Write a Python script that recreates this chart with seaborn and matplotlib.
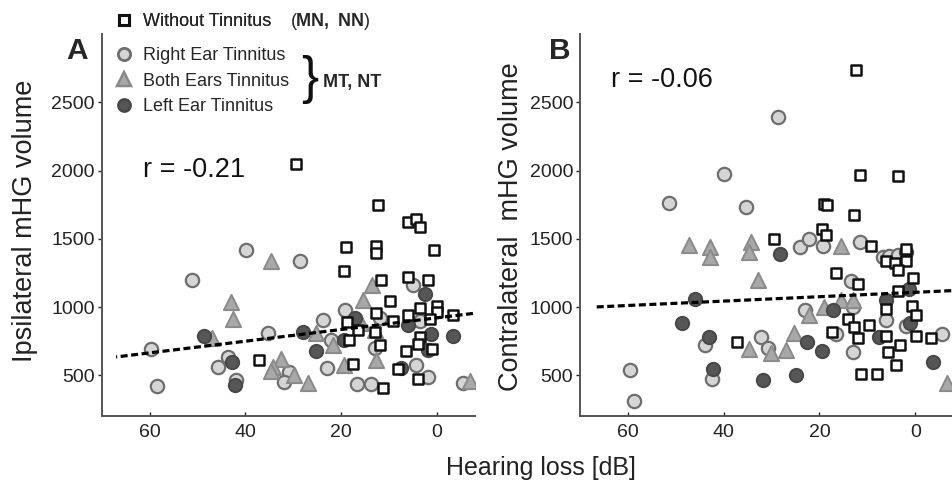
import numpy as np
import pandas as pd
import matplotlib
matplotlib.use('Agg')
import matplotlib.pyplot as plt
from matplotlib.lines import Line2D
import seaborn as sns

# data (hearing loss dB, mHG volume)

# panel A - ipsilateral
sq_a_x = [29.4, 12.3, 6.1, 4.3, 3.6, 19.1, 12.7, 12.7, 0.7, 19.5, 11.6, 6.1, 1.9, 9.8, 3.6, 0.1, 0.0, 12.7,
          6.1, 18.7, 9.2, 1.5, -3.3, 16.5, 13.0, 3.6, 18.3, 12.0, 6.4, 4.0, 1.0, 37.2, 17.6, 8.2, 4.0, 11.3]
sq_a_y = [2050, 1745, 1620, 1645, 1585, 1440, 1445, 1395, 1415, 1265, 1195, 1220, 1200, 1045, 990, 1005, 965, 955,
          940, 890, 900, 915, 940, 830, 815, 780, 760, 720, 680, 730, 690, 615, 585, 545, 475, 405]
rt_a_x = [39.9, 28.6, 51.2, 19.3, 23.7, 11.8, 5.0, 35.2, 59.6, 43.7, 45.8, 42.0, 58.5, 30.8, 31.9, 23.0,
          22.2, 13.0, 16.7, 13.7, 4.3, 1.9, 3.6, -5.4]
rt_a_y = [1420, 1335, 1195, 975, 905, 920, 1165, 810, 690, 635, 560, 465, 420, 525, 450, 555,
          755, 700, 435, 435, 575, 490, 900, 440]
bt_a_x = [34.6, 42.9, 42.5, 47.0, 13.6, 15.5, 25.2, 21.7, 13.0, 15.8, 12.7, 19.4, 32.5, 34.3, 34.6, 29.8, 27.0, -6.8]
bt_a_y = [1340, 1035, 915, 775, 1165, 1050, 810, 720, 830, 880, 610, 575, 620, 560, 530, 505, 445, 460]
lt_a_x = [48.7, 42.8, 42.2, 28.0, 25.2, 17.2, 19.4, 2.6, 6.1, 1.3, 1.9, -3.3, 7.5]
lt_a_y = [785, 600, 430, 815, 680, 920, 755, 1095, 865, 800, 685, 785, 555]

# panel B - contralateral
sq_b_x = [12.3, 11.6, 3.6, 19.1, 18.4, 12.7, 19.4, 29.5, 18.7, 9.2, 1.9, 6.1, 4.3, 1.9, 3.6, 16.5, 12.0, 0.5,
          3.6, 6.1, 0.6, -0.2, 14.1, 12.7, 9.7, 17.4, 12.0, 6.1, -0.1, -3.3, 3.1, 5.7, 4.0, 37.3, 11.3, 7.9]
sq_b_y = [2740, 1965, 1960, 1755, 1750, 1675, 1575, 1500, 1530, 1445, 1425, 1335, 1325, 1335, 1275, 1250, 1170, 1210,
          1115, 985, 1005, 945, 915, 855, 865, 820, 775, 785, 790, 775, 720, 670, 575, 745, 510, 510]
rt_b_x = [28.6, 40.0, 51.4, 35.3, 59.6, 58.8, 43.9, 42.4, 32.2, 30.8, 24.0, 22.1, 19.3, 11.6, 23.1,
          16.5, 13.4, 13.0, 13.0, 6.8, 5.4, 3.6, 6.2, 1.9, -5.6]
rt_b_y = [2390, 1975, 1760, 1735, 540, 315, 720, 475, 780, 700, 1440, 1500, 1445, 1475, 975,
          800, 1190, 1000, 670, 1365, 1375, 1380, 905, 860, 800]
bt_b_x = [47.2, 42.8, 42.8, 34.4, 34.8, 32.8, 15.5, 22.1, 19.0, 15.5, 13.0, 25.4, 34.8, 30.2, 27.0, -6.6]
bt_b_y = [1455, 1440, 1365, 1480, 1405, 1195, 1450, 940, 1000, 1055, 1055, 810, 695, 665, 685, 445]
lt_b_x = [45.9, 48.7, 43.0, 42.3, 28.2, 31.7, 25.0, 22.6, 19.5, 17.2, 6.1, 1.3, 2.0, 7.5, 1.2, -3.6]
lt_b_y = [1060, 880, 780, 545, 1390, 465, 500, 745, 675, 980, 1050, 1135, 1400, 780, 880, 595]

# regression lines (end points)
fit_x = [67, -7.5]
fit_a_y = [634, 953]
fit_b_y = [1000, 1120]

r_labels = ['r = -0.21', 'r = -0.06']
y_labels = ['Ipsilateral mHG volume', 'Contralateral  mHG volume']
panel_labels = ['A', 'B']
y_ticks = [500, 1000, 1500, 2000, 2500]
x_ticks = [60, 40, 20, 0]

sns.set_style('ticks')
plt.rcParams['font.family'] = ['Liberation Sans', 'DejaVu Sans']
plt.rcParams['mathtext.fontset'] = 'custom'
plt.rcParams['mathtext.rm'] = 'Liberation Sans'
plt.rcParams['mathtext.bf'] = 'Liberation Sans:bold'

# marker styles
sq_style = dict(marker='s', s=56, color='white', edgecolor='#111111', linewidth=1.8)
rt_style = dict(marker='o', s=92, color='#d5d5d5', edgecolor='#6e6e6e', linewidth=1.6)
bt_style = dict(marker='^', s=120, color='#a8a8a8', edgecolor='#8a8a8a', linewidth=1.4)
lt_style = dict(marker='o', s=92, color='#565656', edgecolor='#474747', linewidth=1.4)

fig = plt.figure(figsize=(9.52, 4.84), dpi=100)
ax_a = fig.add_axes([0.1068, 0.1415, 0.3925, 0.788])
ax_b = fig.add_axes([0.6092, 0.1415, 0.3925, 0.788])

panels = [
    (ax_a, (sq_a_x, sq_a_y), (rt_a_x, rt_a_y), (bt_a_x, bt_a_y), (lt_a_x, lt_a_y), fit_a_y),
    (ax_b, (sq_b_x, sq_b_y), (rt_b_x, rt_b_y), (bt_b_x, bt_b_y), (lt_b_x, lt_b_y), fit_b_y),
]

for i, (ax, sq, rt, bt, lt, fit_y) in enumerate(panels):
    sns.scatterplot(x=rt[0], y=rt[1], ax=ax, zorder=3, **rt_style)
    sns.scatterplot(x=bt[0], y=bt[1], ax=ax, zorder=3, **bt_style)
    sns.scatterplot(x=lt[0], y=lt[1], ax=ax, zorder=3, **lt_style)
    sns.scatterplot(x=sq[0], y=sq[1], ax=ax, zorder=4, **sq_style)
    sns.lineplot(x=fit_x, y=fit_y, ax=ax, color='black', linewidth=2.3,
                 linestyle=(0, (2.2, 1.1)), zorder=5)

    ax.set_xlim(70, -8)
    ax.set_ylim(205, 3000)
    ax.set_xticks(x_ticks)
    ax.set_yticks(y_ticks)
    ax.tick_params(axis='both', labelsize=14, colors='#222222', length=3, width=1)
    ax.tick_params(axis='x', direction='in', pad=6)
    ax.tick_params(axis='y', direction='out', pad=2)
    for side in ['top', 'right']:
        ax.spines[side].set_visible(False)
    for side in ['left', 'bottom']:
        ax.spines[side].set_color('#555555')
        ax.spines[side].set_linewidth(1.4)
    ax.set_ylabel(y_labels[i], fontsize=19.5, color='#222222', va='center')
    ax.set_xlabel('')

ax_a.yaxis.set_label_coords(-0.205, 0.51)
ax_b.yaxis.set_label_coords(-0.185, 0.495)

# r values
ax_a.text(0.11, 0.645, r_labels[0], transform=ax_a.transAxes, fontsize=19.5, va='center', color='#111111')
ax_b.text(0.084, 0.88, r_labels[1], transform=ax_b.transAxes, fontsize=19.5, va='center', color='#111111')

# panel letters
fig.text(77.5 / 952, 1 - 51 / 484, panel_labels[0], fontsize=21.5, fontweight='bold', ha='center', va='center')
fig.text(559.5 / 952, 1 - 51 / 484, panel_labels[1], fontsize=21.5, fontweight='bold', ha='center', va='center')

fig.text(541 / 952, 1 - 468 / 484, 'Hearing loss [dB]', fontsize=18, ha='center', va='center', color='#222222')

# legends
def handle(st):
    return Line2D([], [], marker=st['marker'], linestyle='none', markersize=np.sqrt(st['s']) * 0.92,
                  markerfacecolor=st['color'], markeredgecolor=st['edgecolor'],
                  markeredgewidth=st['linewidth'] + 0.4)

leg1 = fig.legend(handles=[handle(sq_style)], labels=['Without Tinnitus'], loc='upper left',
                  bbox_to_anchor=(115 / 952, 1 - 13 / 484), frameon=False, fontsize=13,
                  handlelength=1.0, handletextpad=0.55, borderpad=0, borderaxespad=0)
leg2 = fig.legend(handles=[handle(rt_style), handle(bt_style), handle(lt_style)],
                  labels=['Right Ear Tinnitus', 'Both Ears Tinnitus', 'Left Ear Tinnitus'],
                  loc='upper left', bbox_to_anchor=(115 / 952, 1 - 47 / 484), frameon=False,
                  fontsize=13, handlelength=1.0, handletextpad=0.55, labelspacing=0.48,
                  borderpad=0, borderaxespad=0)
fig.add_artist(leg1)

fig.text(290 / 952, 1 - 21 / 484, r'($\mathbf{MN,\;NN}$)', fontsize=13, va='center')
fig.text(301 / 952, 1 - 80 / 484, '}', fontsize=37, va='center', ha='left', color='#111111',
         fontweight='light')
fig.text(323 / 952, 1 - 82 / 484, 'MT, NT', fontsize=13, fontweight='bold', va='center')

fig.savefig('out.png', dpi=100)
